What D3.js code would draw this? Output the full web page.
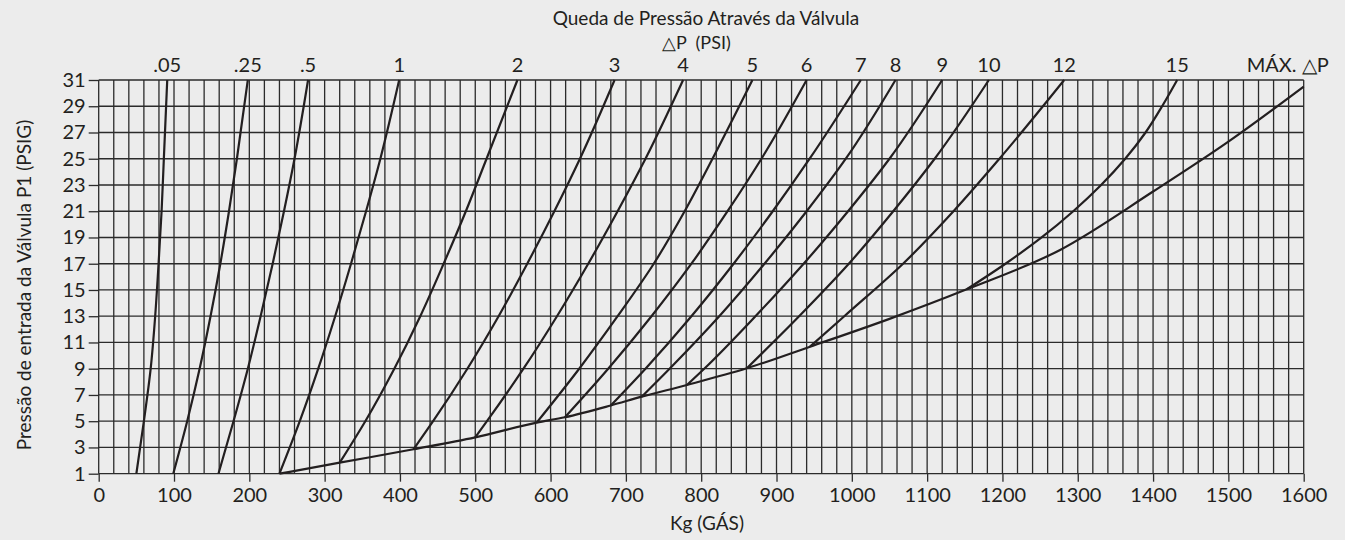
<!DOCTYPE html>
<html>
<head>
<meta charset="utf-8">
<script src="https://cdn.jsdelivr.net/npm/d3@7"></script>
<style>
  html, body { margin: 0; padding: 0; background: #ececec; }
  svg { display: block; font-family: Lato, "Open Sans", sans-serif; }
</style>
</head>
<body>
<svg id="chart" width="1345" height="540"></svg>
<script>
// Axis tick values
const pressureTicks = [1, 3, 5, 7, 9, 11, 13, 15, 17, 19, 21, 23, 25, 27, 29, 31];
const massTicks = [0, 100, 200, 300, 400, 500, 600, 700, 800, 900, 1000, 1100, 1200, 1300, 1400, 1500, 1600];

// Pressure-drop curves: [kg of gas, inlet pressure P1 in psig]
const drop005 = [[50, 1], [60, 5], [69, 9], [75, 13], [79.5, 17], [83.5, 21], [86.5, 25], [89.5, 29], [91, 31]];
const drop025 = [[99, 1], [117.5, 5], [134, 9], [148.5, 13], [161.5, 17], [173, 21], [183.5, 25], [198, 31]];
const drop05  = [[159, 1], [179, 5], [198, 9], [215, 13], [231, 17], [246, 21], [260, 25], [278, 31]];
const drop1   = [[240, 1], [267, 5], [291.5, 9], [314, 13], [335, 17], [355, 21], [374, 25], [399, 31]];
const drop2   = [[320, 1.84], [354, 5], [392.5, 9], [427, 13], [458, 17], [487.5, 21], [515, 25], [556, 31]];
const drop3   = [[418, 2.86], [444, 5], [489.5, 9], [531, 13], [569, 17], [605, 21], [639, 25], [685, 31]];
const drop4   = [[500, 3.77], [515.5, 5], [564, 9], [608.5, 13], [650, 17], [689, 21], [726, 25], [776, 31]];
const drop5   = [[581.5, 4.89], [638, 9], [689, 13], [737, 17], [778, 21], [815, 25], [868, 31]];
const drop6   = [[619, 5.3], [676.5, 9], [734, 13], [787, 17], [835, 21], [880, 25], [940, 31]];
const drop7   = [[680, 6.2], [726, 9], [787, 13], [843, 17], [895, 21], [944, 25], [1012, 31]];
const drop8   = [[721, 6.87], [758, 9], [824, 13], [884, 17], [940, 21], [992, 25], [1058, 31]];
const drop9   = [[781, 7.76], [804, 9], [872, 13], [936, 17], [995, 21], [1050, 25], [1120, 31]];
const drop10  = [[860.5, 9.03], [930, 13], [996, 17], [1055, 21], [1110, 25], [1182, 31]];
const drop12  = [[944.5, 10.68], [990, 13], [1068, 17], [1135, 21], [1196, 25], [1282, 31]];
const drop15  = [[1152.6, 15.05], [1204, 17], [1252, 19], [1294, 21], [1331, 23], [1363, 25], [1390, 27], [1412, 29], [1432, 31]];

// Maximum allowable pressure drop boundary
const maxDrop = [[240, 1], [320, 1.84], [418, 2.86], [500, 3.77], [581.5, 4.89], [619, 5.3], [680, 6.2],
                 [721, 6.87], [781, 7.76], [860.5, 9.03], [944.5, 10.68], [1050, 12.8], [1152.6, 15.05],
                 [1276.5, 18.05], [1400, 22.5], [1500, 26.3], [1600, 30.5]];

const dropLabels = [".05", ".25", ".5", "1", "2", "3", "4", "5", "6", "7", "8", "9", "10", "12", "15"];
const dropSeries = [drop005, drop025, drop05, drop1, drop2, drop3, drop4, drop5, drop6, drop7, drop8, drop9, drop10, drop12, drop15];

const ink = "#231f20";
const svg = d3.select("#chart");

const x = d3.scaleLinear().domain([0, 1600]).range([98.7, 1303.7]);
const y = d3.scaleLinear().domain([1, 31]).range([473.7, 80]);

// Grid: a vertical line every 20 kg, a horizontal line at every odd psig
const grid = svg.append("g").attr("stroke", "#2b2b2b").attr("stroke-width", 1.3);
grid.selectAll("line.v").data(d3.range(0, 1601, 20)).join("line")
  .attr("class", "v")
  .attr("x1", d => x(d)).attr("x2", d => x(d))
  .attr("y1", y(1)).attr("y2", y(31));
grid.selectAll("line.h").data(pressureTicks).join("line")
  .attr("class", "h")
  .attr("x1", x(0)).attr("x2", x(1600))
  .attr("y1", d => y(d)).attr("y2", d => y(d));

// Curves
const dropLine = d3.line().x(d => x(d[0])).y(d => y(d[1])).curve(d3.curveMonotoneY);
const maxLine = d3.line().x(d => x(d[0])).y(d => y(d[1])).curve(d3.curveMonotoneX);

const curves = svg.append("g").attr("fill", "none").attr("stroke", ink)
  .attr("stroke-width", 2.2).attr("stroke-linejoin", "round");
curves.selectAll("path.drop").data(dropSeries).join("path")
  .attr("class", "drop").attr("d", dropLine);
curves.append("path").attr("d", maxLine(maxDrop));

// Axes
const xAxis = svg.append("g").attr("transform", `translate(0,${y(1)})`)
  .call(d3.axisBottom(x).tickValues(massTicks).tickSize(8).tickPadding(6).tickFormat(d3.format("d")));
const yAxis = svg.append("g").attr("transform", `translate(${x(0)},0)`)
  .call(d3.axisLeft(y).tickValues(pressureTicks).tickSize(10).tickPadding(3).tickFormat(d3.format("d")));
[xAxis, yAxis].forEach(a => {
  a.select(".domain").remove();
  a.selectAll(".tick line").attr("stroke", "#2b2b2b").attr("stroke-width", 1.3);
  a.selectAll(".tick text").attr("fill", ink).attr("font-size", 20).attr("font-family", "Lato, sans-serif");
});

// Curve labels along the top
const labels = svg.append("g").attr("fill", ink).attr("font-size", 20).attr("text-anchor", "middle");
labels.selectAll("text").data(dropSeries).join("text")
  .attr("x", d => x(d[d.length - 1][0]))
  .attr("y", 72)
  .text((d, i) => dropLabels[i]);
labels.append("text")
  .attr("x", x(1600) + 25).attr("y", 72).attr("text-anchor", "end")
  .text("MÁX. △P");

// Titles
svg.append("text").attr("x", 706).attr("y", 25).attr("text-anchor", "middle")
  .attr("font-size", 19).attr("fill", ink)
  .text("Queda de Pressão Através da Válvula");
svg.append("text").attr("x", 662).attr("y", 49)
  .attr("font-size", 18).attr("fill", ink).style("white-space", "pre")
  .text("△P  (PSI)");
svg.append("text").attr("x", 707).attr("y", 530).attr("text-anchor", "middle")
  .attr("font-size", 19).attr("fill", ink)
  .text("Kg (GÁS)");
svg.append("text").attr("transform", "translate(31,285) rotate(-90)").attr("text-anchor", "middle")
  .attr("font-size", 19).attr("fill", ink)
  .text("Pressão de entrada da Válvula P1 (PSIG)");
</script>
</body>
</html>
